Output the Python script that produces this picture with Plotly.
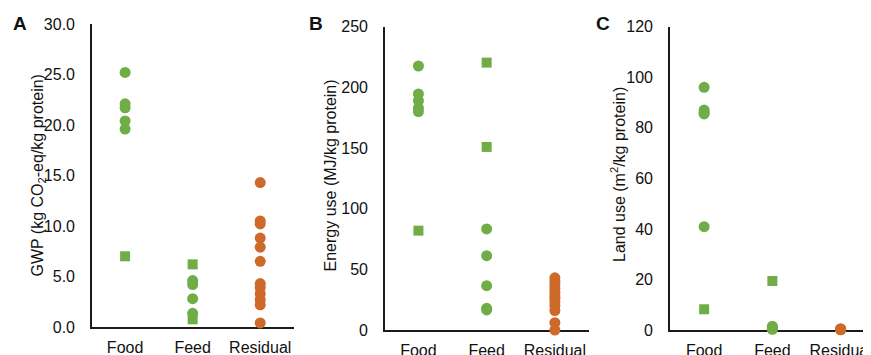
import plotly.graph_objects as go

categories = ["Food", "Feed", "Residual"]

# Panel A: GWP (kg CO2-eq/kg protein)
a_food_circle = [25.2, 22.1, 21.7, 20.4, 19.6]
a_food_square = [7.0]
a_feed_square = [6.2, 0.76]
a_feed_circle = [4.6, 4.2, 2.8, 1.35]
a_res_circle = [14.3, 10.5, 10.2, 8.8, 7.9, 6.5, 4.3, 3.9, 3.3, 2.7, 2.2, 0.4]

# Panel B: Energy use (MJ/kg protein)
b_food_circle = [217.6, 194.6, 189.0, 183.0, 180.0]
b_food_square = [81.9]
b_feed_square = [220.4, 150.9]
b_feed_circle = [83.3, 61.3, 36.5, 17.9, 16.5]
b_res_circle = [43, 40, 37, 34, 31, 28, 26, 23, 20, 16, 6, 0]

# Panel C: Land use (m2/kg protein)
c_food_circle = [96.0, 87.0, 86.0, 85.5, 40.9]
c_food_square = [8.2]
c_feed_square = [19.4]
c_feed_circle = [1.5, 0.8, 0.5, 0.3]
c_res_circle = [0.5, 0.3, 0.2, 0.1]

y_ticks_a = [0, 5, 10, 15, 20, 25, 30]
y_ticks_b = [0, 50, 100, 150, 200, 250]
y_ticks_c = [0, 20, 40, 60, 80, 100, 120]

GREEN = "#70AD47"
ORANGE = "#CD6A2A"
# page body has an 8px margin, so the figure is sized to end at the window edge
W, H = 863, 347

fig = go.Figure()


def add(xaxis, yaxis, cat, vals, color, symbol, size):
    fig.add_trace(go.Scatter(
        x=[cat] * len(vals), y=vals, mode="markers",
        marker=dict(color=color, symbol=symbol, size=size, line=dict(width=0)),
        xaxis=xaxis, yaxis=yaxis, cliponaxis=False, showlegend=False,
        hoverinfo="y"))


panels = [
    ("x", "y", a_food_circle, a_food_square, a_feed_square, a_feed_circle, a_res_circle),
    ("x2", "y2", b_food_circle, b_food_square, b_feed_square, b_feed_circle, b_res_circle),
    ("x3", "y3", c_food_circle, c_food_square, c_feed_square, c_feed_circle, c_res_circle),
]
for xa, ya, fc, fs, fds, fdc, rc in panels:
    add(xa, ya, "Food", fc, GREEN, "circle", 11)
    add(xa, ya, "Food", fs, GREEN, "square", 10)
    add(xa, ya, "Feed", fds, GREEN, "square", 10)
    add(xa, ya, "Feed", fdc, GREEN, "circle", 11)
    add(xa, ya, "Residual", rc, ORANGE, "circle", 11)

FONT = dict(family="Liberation Sans, Arial, sans-serif", size=16, color="#111111")


def xax(x0, x1, rng):
    return dict(domain=[x0 / W, min(x1 / W, 1.0)], type="category",
                categoryorder="array", categoryarray=categories,
                range=rng, showgrid=False, zeroline=False,
                showline=True, linecolor="#1a1a1a", linewidth=1.6,
                ticks="", tickfont=FONT, ticklabelstandoff=5,
                automargin=False, layer="below traces", fixedrange=True)


def yax(top, bottom, rng, tickvals, fmt, anchor):
    return dict(domain=[1 - bottom / H, 1 - top / H], range=rng,
                tickvals=tickvals, tickformat=fmt, showgrid=False,
                zeroline=False, showline=True, linecolor="#1a1a1a",
                linewidth=1.6, ticks="", tickfont=FONT,
                ticklabelstandoff=12, anchor=anchor, automargin=False,
                layer="below traces", fixedrange=True)


fig.update_layout(
    width=W, height=H, margin=dict(l=0, r=0, t=0, b=0, autoexpand=False),
    paper_bgcolor="white", plot_bgcolor="white", font=FONT,
    xaxis=dict(xax(84, 286, [-0.49, 2.5]), anchor="y"),
    yaxis=yax(16, 319, [0, 30], y_ticks_a, ".1f", "x"),
    xaxis2=dict(xax(377, 581, [-0.49, 2.5]), anchor="y2"),
    yaxis2=yax(18.7, 322, [0, 250], y_ticks_b, "d", "x2"),
    xaxis3=dict(xax(662, 863, [-0.5, 2.445]), anchor="y3"),
    yaxis3=yax(18.7, 322, [0, 120], y_ticks_c, "d", "x3"),
)

annots = [
    ("A", 11.5), ("B", 307.5), ("C", 594.5),
]
for letter, xp in annots:
    fig.add_annotation(text=f"<b>{letter}</b>", x=xp / W, y=1 - 15.3 / H,
                       xref="paper", yref="paper", showarrow=False,
                       xanchor="center", yanchor="middle",
                       font=dict(family="Liberation Sans, Arial, sans-serif",
                                 size=19, color="#111111"))

titles = [
    ("GWP (kg CO<sub>2</sub>-eq/kg protein)", 29.5, 168),
    ("Energy use (MJ/kg protein)", 322, 167.5),
    ("Land use (m<sup>2</sup>/kg protein)", 610, 167),
]
for t, xp, yp in titles:
    fig.add_annotation(text=t, x=xp / W, y=1 - yp / H, xref="paper",
                       yref="paper", showarrow=False, textangle=-90,
                       xanchor="center", yanchor="middle", font=FONT)

fig.write_html("out.html")
